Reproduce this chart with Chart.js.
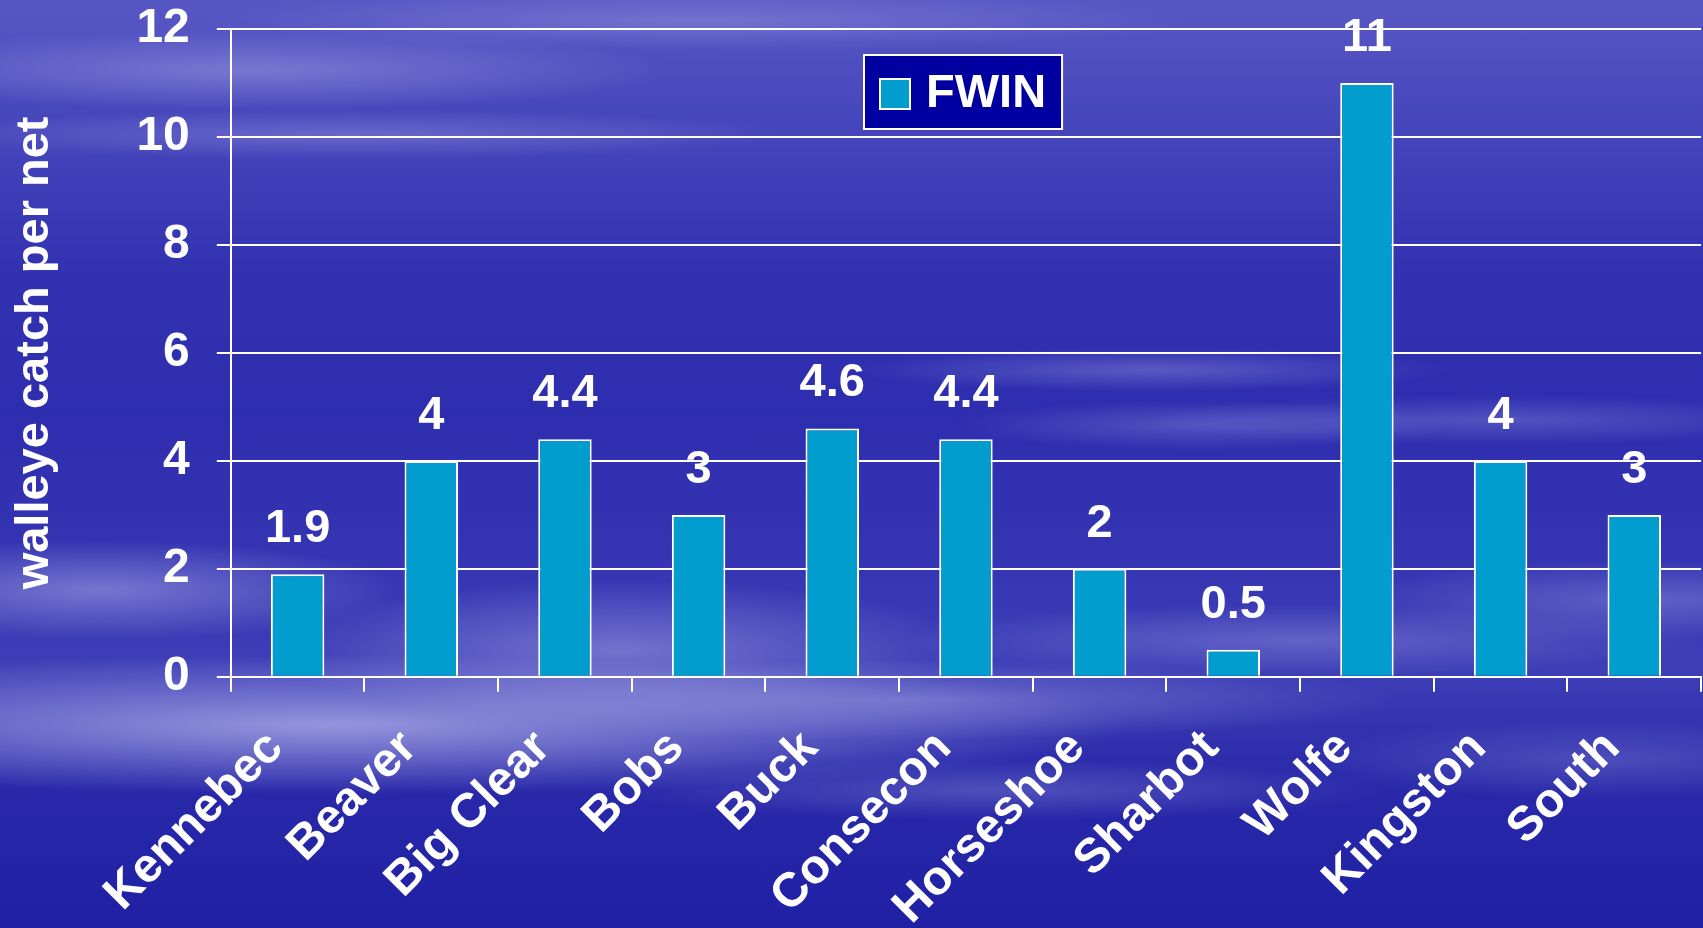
<!DOCTYPE html>
<html>
<head>
<meta charset="utf-8">
<script src="https://cdn.jsdelivr.net/npm/chart.js@4.4.1/dist/chart.umd.min.js"></script>
<style>
  html, body { margin: 0; padding: 0; }
  body {
    width: 1703px; height: 928px; overflow: hidden;
    background:
      radial-gradient(ellipse 420px 40px at 250px 70px, rgba(170,170,230,0.45), rgba(170,170,230,0) 100%),
      radial-gradient(ellipse 500px 30px at 700px 20px, rgba(170,170,230,0.35), rgba(170,170,230,0) 100%),
      radial-gradient(ellipse 450px 25px at 350px 135px, rgba(170,170,230,0.35), rgba(170,170,230,0) 100%),
      radial-gradient(ellipse 300px 22px at 1150px 370px, rgba(170,170,230,0.35), rgba(170,170,230,0) 100%),
      radial-gradient(ellipse 250px 25px at 1200px 425px, rgba(170,170,230,0.3), rgba(170,170,230,0) 100%),
      radial-gradient(ellipse 350px 25px at 1500px 420px, rgba(170,170,230,0.3), rgba(170,170,230,0) 100%),
      radial-gradient(ellipse 300px 50px at 100px 590px, rgba(180,180,235,0.5), rgba(180,180,235,0) 100%),
      radial-gradient(ellipse 350px 70px at 620px 650px, rgba(180,180,235,0.45), rgba(180,180,235,0) 100%),
      radial-gradient(ellipse 800px 70px at 330px 725px, rgba(190,190,240,0.7), rgba(190,190,240,0) 100%),
      radial-gradient(ellipse 500px 40px at 900px 700px, rgba(170,170,230,0.45), rgba(170,170,230,0) 100%),
      radial-gradient(ellipse 400px 35px at 1300px 640px, rgba(170,170,230,0.35), rgba(170,170,230,0) 100%),
      radial-gradient(ellipse 400px 30px at 1000px 790px, rgba(170,170,230,0.3), rgba(170,170,230,0) 100%),
      radial-gradient(ellipse 300px 40px at 1650px 600px, rgba(170,170,230,0.35), rgba(170,170,230,0) 100%),
      radial-gradient(ellipse 300px 40px at 1600px 760px, rgba(170,170,230,0.25), rgba(170,170,230,0) 100%),
      linear-gradient(to bottom, #5757c4 0%, #4444bb 15%, #3131b1 30%, #2d2daf 45%, #3535b3 60%, #3e3eb7 72%, #2828a9 85%, #2020a5 100%);
  }
  #wrap { position: relative; width: 1703px; height: 928px; }
</style>
</head>
<body>
<div id="wrap"><canvas id="catchChart" width="1703" height="928"></canvas></div>
<script>
// data
const lakes = ['Kennebec', 'Beaver', 'Big Clear', 'Bobs', 'Buck', 'Consecon', 'Horseshoe', 'Sharbot', 'Wolfe', 'Kingston', 'South'];
const fwinCatch = [1.9, 4, 4.4, 3, 4.6, 4.4, 2, 0.5, 11, 4, 3];
const seriesName = 'FWIN';
const yTitle = 'walleye catch per net';

const fontFamily = '"Liberation Sans", Arial, sans-serif';

// value labels above bars
const barLabels = {
  id: 'barLabels',
  afterDatasetsDraw(chart) {
    const ctx = chart.ctx;
    const meta = chart.getDatasetMeta(0);
    ctx.save();
    ctx.fillStyle = '#ffffff';
    ctx.font = 'bold 47px ' + fontFamily;
    ctx.textAlign = 'center';
    ctx.textBaseline = 'middle';
    meta.data.forEach(function (bar, i) {
      ctx.fillText(String(chart.data.datasets[0].data[i]), bar.x, bar.y - 45);
    });
    ctx.restore();
  }
};

// boxed legend drawn inside the plot
const boxLegend = {
  id: 'boxLegend',
  afterDraw(chart) {
    const ctx = chart.ctx;
    const area = chart.chartArea;
    const ds = chart.data.datasets[0];
    ctx.save();
    ctx.font = 'bold 47px ' + fontFamily;
    const tw = ctx.measureText(ds.label).width;
    const w = 16 + 30 + 16 + tw + 16;
    const h = 74;
    const cx = (area.left + area.right) / 2 - 3;
    const x = Math.round(cx - w / 2);
    const y = Math.round(area.top + 26);
    ctx.fillStyle = '#0000a0';
    ctx.fillRect(x, y, w, h);
    ctx.strokeStyle = '#ffffff';
    ctx.lineWidth = 2;
    ctx.strokeRect(x, y, w, h);
    ctx.fillStyle = ds.backgroundColor;
    ctx.fillRect(x + 16, y + 24, 30, 30);
    ctx.strokeRect(x + 16, y + 24, 30, 30);
    ctx.fillStyle = '#ffffff';
    ctx.textAlign = 'left';
    ctx.textBaseline = 'middle';
    ctx.fillText(ds.label, x + 62, y + 39);
    ctx.restore();
  }
};

const ctxEl = document.getElementById('catchChart');

var catchChart = new Chart(ctxEl, {
  type: 'bar',
  data: {
    labels: lakes,
    datasets: [
      {
        label: seriesName,
        data: fwinCatch,
        backgroundColor: '#019dcf',
        borderColor: '#ffffff',
        borderWidth: 2,
        barPercentage: 0.4,
        categoryPercentage: 1
      }
    ]
  },
  options: {
    responsive: false,
    animation: false,
    devicePixelRatio: 1,
    layout: {
      padding: { left: 7, right: 0, top: 0, bottom: -36 }
    },
    plugins: {
      legend: { display: false },
      tooltip: { enabled: false }
    },
    scales: {
      x: {
        grid: {
          display: true,
          drawOnChartArea: false,
          drawTicks: true,
          tickLength: 15,
          color: '#ffffff',
          lineWidth: 2
        },
        border: { display: true, color: '#ffffff', width: 2 },
        ticks: {
          color: '#ffffff',
          font: { family: fontFamily, size: 48, weight: 'bold' },
          minRotation: 45,
          maxRotation: 45,
          autoSkip: false,
          padding: 28,
          labelOffset: -22
        }
      },
      y: {
        min: 0,
        max: 12,
        afterFit(scale) {
          // tick padding should not push the plot top down
          scale.paddingTop = 29;
          scale.paddingBottom = 29;
        },
        ticks: {
          stepSize: 2,
          color: '#ffffff',
          font: { family: fontFamily, size: 48, weight: 'bold' },
          padding: 27
        },
        grid: {
          color: '#ffffff',
          lineWidth: 2,
          tickLength: 14
        },
        border: { display: true, color: '#ffffff', width: 2 },
        title: {
          display: true,
          text: yTitle,
          color: '#ffffff',
          font: { family: fontFamily, size: 47, weight: 'bold' },
          padding: { top: 0, bottom: 46 }
        }
      }
    }
  },
  plugins: [barLabels, boxLegend]
});
</script>
</body>
</html>
